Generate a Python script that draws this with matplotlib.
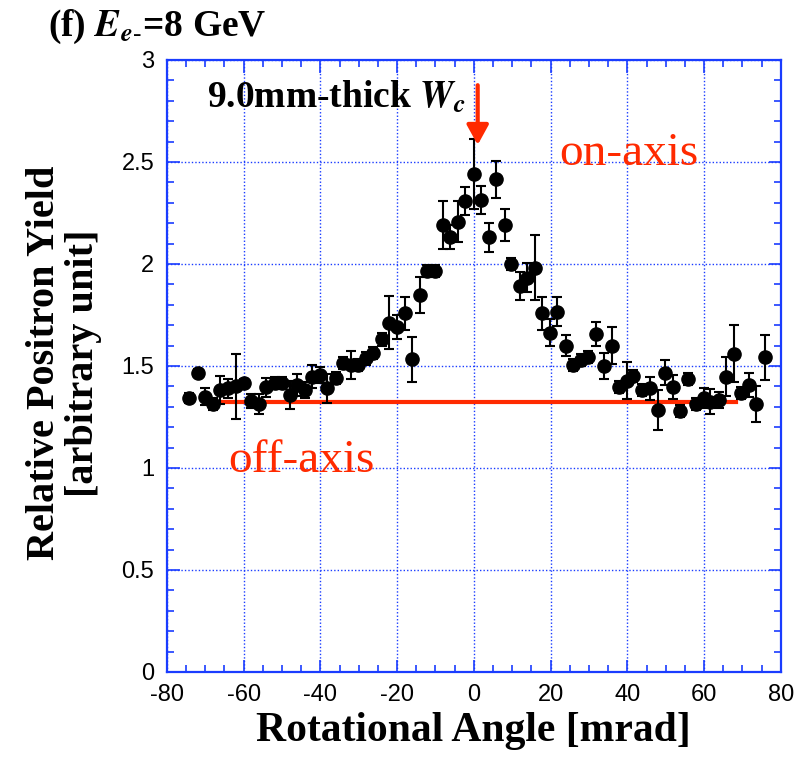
import matplotlib
matplotlib.use("Agg")
import matplotlib.pyplot as plt
from matplotlib.ticker import MultipleLocator

plt.rcParams["mathtext.fontset"] = "stix"
plt.rcParams["axes.unicode_minus"] = False

# Rotational angle [mrad], relative positron yield, error
angle = [-74.2, -71.8, -70.1, -68.0, -66.2, -64.0, -62.0, -59.9, -58.2, -56.0,
         -54.2, -51.9, -50.1, -48.0, -46.2, -43.9, -42.3, -40.0, -38.3, -36.0,
         -34.2, -31.9, -30.2, -28.0, -26.3, -23.9, -22.2, -20.0, -18.0, -16.0,
         -14.1, -12.1, -10.2, -8.0, -6.1, -4.1, -2.2, 0.0, 1.8, 3.9,
         5.7, 8.0, 9.8, 11.9, 13.8, 16.0, 17.7, 19.9, 21.7, 23.9,
         25.8, 27.8, 29.7, 31.9, 33.8, 36.0, 37.8, 39.9, 41.6, 43.9,
         45.8, 47.9, 49.7, 51.8, 53.6, 55.8, 57.8, 59.9, 61.6, 63.9,
         65.6, 67.9, 69.7, 71.8, 73.6, 75.9]
yield_rel = [1.342, 1.464, 1.35, 1.314, 1.382, 1.39, 1.40, 1.415, 1.33, 1.314,
             1.395, 1.415, 1.415, 1.358, 1.407, 1.382, 1.448, 1.456, 1.39, 1.44,
             1.513, 1.505, 1.505, 1.537, 1.565, 1.63, 1.712, 1.69, 1.758, 1.533,
             1.848, 1.967, 1.967, 2.191, 2.131, 2.207, 2.309, 2.441, 2.314, 2.131,
             2.415, 2.191, 2.0, 1.892, 1.933, 1.982, 1.758, 1.663, 1.766, 1.60,
             1.505, 1.529, 1.543, 1.657, 1.5, 1.60, 1.398, 1.428, 1.451, 1.382,
             1.39, 1.284, 1.467, 1.398, 1.281, 1.435, 1.314, 1.342, 1.325, 1.333,
             1.448, 1.559, 1.366, 1.407, 1.314, 1.543]
yield_err = [0.025, 0.02, 0.04, 0.03, 0.07, 0.045, 0.16, 0.02, 0.035, 0.05,
             0.045, 0.03, 0.03, 0.07, 0.055, 0.04, 0.055, 0.04, 0.07, 0.03,
             0.03, 0.07, 0.03, 0.03, 0.03, 0.03, 0.13, 0.06, 0.08, 0.11,
             0.09, 0.03, 0.03, 0.12, 0.06, 0.1, 0.07, 0.17, 0.07, 0.07,
             0.09, 0.08, 0.03, 0.07, 0.07, 0.16, 0.08, 0.065, 0.07, 0.05,
             0.03, 0.03, 0.03, 0.06, 0.065, 0.09, 0.03, 0.09, 0.03, 0.03,
             0.055, 0.1, 0.06, 0.06, 0.03, 0.03, 0.03, 0.05, 0.06, 0.04,
             0.095, 0.14, 0.03, 0.06, 0.09, 0.11]

off_axis_level = 1.322
off_axis_range = [-70.1, 68.4]
arrow_x = 1.0
arrow_y = [2.89, 2.57]

x_ticks = [-80, -60, -40, -20, 0, 20, 40, 60, 80]
y_ticks = [0, 0.5, 1, 1.5, 2, 2.5, 3]
y_tick_labels = ["0", "0.5", "1", "1.5", "2", "2.5", "3"]

BLUE = "#1a3cff"
RED = "#ff2a00"
SERIF = "Liberation Serif"
SANS = "Liberation Sans"

fig = plt.figure(figsize=(8.1, 7.63), dpi=100)
ax = fig.add_axes([0.206, 0.1193, 0.758, 0.8021])

ax.set_xlim(-80, 80)
ax.set_ylim(0, 3)
ax.set_xticks(x_ticks)
ax.set_yticks(y_ticks)
ax.set_yticklabels(y_tick_labels)
ax.xaxis.set_minor_locator(MultipleLocator(5))
ax.yaxis.set_minor_locator(MultipleLocator(0.1))

ax.grid(True, which="major", color=BLUE, linestyle=(0, (1, 1.5)), linewidth=1.0)
ax.set_axisbelow(True)

for spine in ax.spines.values():
    spine.set_color(BLUE)
    spine.set_linewidth(1.6)

ax.tick_params(which="both", direction="in", top=True, right=True, color=BLUE,
               width=1.2, labelsize=17, pad=9)
ax.tick_params(which="major", length=9)
ax.tick_params(which="minor", length=5)
for lbl in ax.get_xticklabels() + ax.get_yticklabels():
    lbl.set_fontfamily(SANS)

# off-axis reference level
ax.plot(off_axis_range, [off_axis_level, off_axis_level], color=RED, lw=3, zorder=3)

ax.errorbar(angle, yield_rel, yerr=yield_err, fmt="o", color="black",
            markersize=9.5, elinewidth=1.5, capsize=3.5, capthick=1.5, zorder=4)

ax.annotate("", xy=(arrow_x, arrow_y[1]), xytext=(arrow_x, arrow_y[0]),
            arrowprops=dict(arrowstyle="-|>,head_length=0.6,head_width=0.33",
                            mutation_scale=20, color=RED, lw=3), zorder=5)

ax.text(-69.6, 2.77, r"9.0mm-thick $\mathbfit{W}_{\mathbfit{c}}$", fontsize=27,
        fontweight="bold", fontfamily=SERIF, va="baseline")
ax.text(22.3, 2.485, "on-axis", fontsize=34, color=RED, fontfamily=SERIF, va="baseline")
ax.text(-64.1, 0.98, "off-axis", fontsize=34, color=RED, fontfamily=SERIF, va="baseline")

ax.set_xlabel("Rotational Angle [mrad]", fontsize=30, fontweight="bold",
              fontfamily=SERIF, labelpad=4)
ax.set_ylabel("Relative Positron Yield\n[arbitrary unit]", fontsize=29,
              fontweight="bold", fontfamily=SERIF, linespacing=1.05)
ax.yaxis.set_label_coords(-0.106, 0.505)

fig.text(0.059, 0.953, r"(f) $\mathbfit{E}_{\mathbfit{e}\text{-}}$=8 GeV", fontsize=27,
         fontweight="bold", fontfamily=SERIF, va="baseline")

fig.savefig("out.png", dpi=100)
